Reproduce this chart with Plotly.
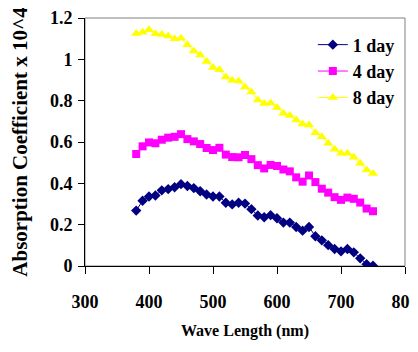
import plotly.graph_objects as go

wavelength = list(range(380, 760, 10))

day1 = [0.268, 0.316, 0.336, 0.341, 0.366, 0.372, 0.381, 0.396, 0.387, 0.377, 0.362, 0.346,
        0.336, 0.336, 0.306, 0.298, 0.306, 0.302, 0.275, 0.244, 0.236, 0.246, 0.231, 0.210,
        0.210, 0.189, 0.171, 0.189, 0.144, 0.124, 0.101, 0.082, 0.071, 0.082, 0.066, 0.037,
        0.009, 0.001]

day4 = [0.542, 0.579, 0.598, 0.594, 0.611, 0.621, 0.625, 0.638, 0.614, 0.603, 0.590, 0.571,
        0.561, 0.572, 0.539, 0.527, 0.526, 0.537, 0.517, 0.488, 0.472, 0.489, 0.484, 0.467,
        0.458, 0.429, 0.408, 0.438, 0.406, 0.374, 0.355, 0.333, 0.320, 0.331, 0.325, 0.307,
        0.278, 0.265]

day8 = [1.125, 1.131, 1.143, 1.124, 1.120, 1.113, 1.100, 1.102, 1.070, 1.040, 1.021, 0.989,
        0.961, 0.949, 0.914, 0.899, 0.895, 0.866, 0.842, 0.803, 0.786, 0.789, 0.767, 0.739,
        0.728, 0.706, 0.687, 0.682, 0.645, 0.626, 0.594, 0.565, 0.545, 0.545, 0.526, 0.497,
        0.465, 0.448]

series_names = ["1 day", "4 day", "8 day"]
x_ticks = [300, 400, 500, 600, 700, 800]
y_ticks = [0, 0.2, 0.4, 0.6, 0.8, 1, 1.2]
y_tick_text = ["0", "0.2", "0.4", "0.6", "0.8", "1", "1.2"]

FONT = "Liberation Serif, Times New Roman, serif"

fig = go.Figure()
fig.add_trace(go.Scatter(
    x=wavelength, y=day1, name=series_names[0], mode="lines+markers",
    line=dict(color="#000080", width=1),
    marker=dict(symbol="diamond", size=8, color="#000080")))
fig.add_trace(go.Scatter(
    x=wavelength, y=day4, name=series_names[1], mode="lines+markers",
    line=dict(color="#FF00FF", width=1),
    marker=dict(symbol="square", size=8, color="#FF00FF")))
fig.add_trace(go.Scatter(
    x=wavelength, y=day8, name=series_names[2], mode="lines+markers",
    line=dict(color="#FFFF00", width=1),
    marker=dict(symbol="triangle-up", size=9, color="#FFFF00")))

fig.add_shape(type="rect", xref="paper", yref="paper", x0=0, y0=0, x1=1, y1=1,
              line=dict(color="#808080", width=1), layer="below")

# page has an 8px body margin; keep the figure small enough that no scrollbar appears
fig.update_layout(
    width=410, height=332,
    margin=dict(l=77, r=13, t=10, b=74, autoexpand=False),
    paper_bgcolor="white", plot_bgcolor="white",
    font=dict(family=FONT, size=18, color="black", weight="bold"),
    showlegend=True,
    legend=dict(x=0.712, y=0.966, xanchor="left", yanchor="top",
                bgcolor="rgba(0,0,0,0)", font=dict(family=FONT, size=18, weight="bold"),
                itemwidth=30, tracegroupgap=0),
    xaxis=dict(range=[300, 800], tickvals=x_ticks, showgrid=False, zeroline=False,
               automargin=False, ticklabeloverflow="allow",
               showline=True, linecolor="black", linewidth=1,
               ticks="outside", ticklen=7, tickcolor="black",
               ticklabelstandoff=12,
               tickfont=dict(family=FONT, size=18, weight="bold"),
               title=dict(text="<b>Wave Length (nm)</b>", standoff=18,
                          font=dict(family=FONT, size=16, weight="bold"))),
    yaxis=dict(range=[0, 1.2], tickvals=y_ticks, ticktext=y_tick_text,
               showgrid=False, zeroline=False, automargin=False,
               ticklabeloverflow="allow",
               showline=True, linecolor="black", linewidth=1,
               ticks="outside", ticklen=6, tickcolor="black",
               ticklabelstandoff=2,
               tickfont=dict(family=FONT, size=18, weight="bold"),
               title=dict(text="<b>Absorption Coefficient x 10^4</b>", standoff=18,
                          font=dict(family=FONT, size=21, weight="bold"))),
)

fig.write_html("out.html")
